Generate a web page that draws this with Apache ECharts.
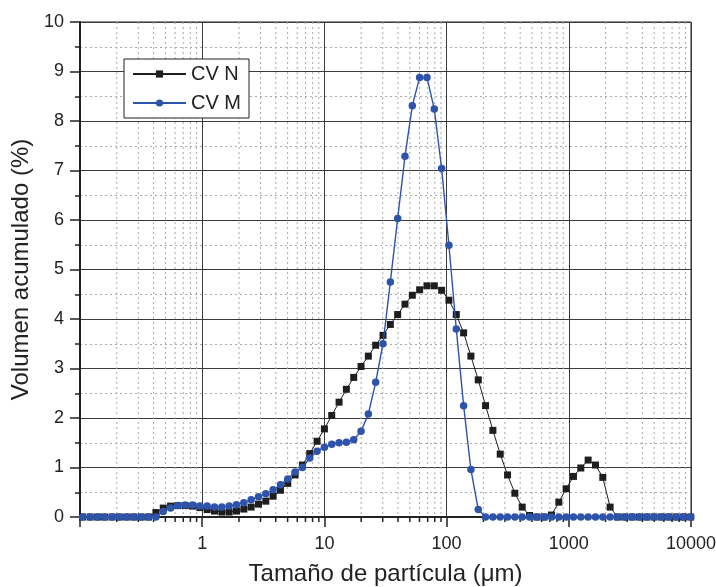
<!DOCTYPE html>
<html>
<head>
<meta charset="utf-8">
<script src="https://cdn.jsdelivr.net/npm/echarts@6/dist/echarts.min.js"></script>
<style>
html,body{margin:0;padding:0;background:#fff;}
#chart{width:716px;height:587px;}
</style>
</head>
<body>
<div id="chart"></div>
<script>
// Particle sizes (µm)
const sizes = [0.105,0.121,0.139,0.159,0.183,0.210,0.241,0.276,0.317,0.364,0.418,0.480,0.551,0.632,0.726,0.834,0.957,1.099,1.261,1.448,1.662,1.908,2.191,2.515,2.888,3.315,3.806,4.369,5.015,5.757,6.609,7.588,8.711,10.0,11.48,13.18,15.13,17.37,19.94,22.89,26.28,30.17,34.64,39.77,45.66,52.41,60.17,69.08,79.31,91.05,104.5,120.0,137.8,158.1,181.6,208.4,239.3,274.7,315.3,362.0,415.6,477.1,547.8,628.8,722.0,828.8,951.4,1092,1254,1440,1653,1897,2178,2500,2871,3296,3783,4344,4986,5725,6572,7545,8662,9943];

// CV N (%)
const cvN = [0,0,0,0,0,0,0,0,0,0,
  0.09,0.18,0.22,0.23,0.23,0.22,0.19,0.15,0.12,0.10,0.10,0.12,0.16,0.20,0.26,0.32,0.42,0.54,0.68,0.85,1.05,1.28,1.53,
  1.78,2.05,2.32,2.58,2.82,3.04,3.25,3.47,3.67,3.89,4.09,4.30,4.48,4.59,4.67,4.67,4.58,4.38,4.09,3.72,3.25,2.77,2.25,1.75,1.27,0.85,0.48,0.20,0.03,0,0,0.04,0.30,0.57,0.82,0.99,1.15,1.05,0.80,0.20,
  0,0,0,0,0,0,0,0,0,0,0];

// CV M (%)
const cvM = [0,0,0,0,0,0,0,0,0,0,0,
  0.11,0.18,0.23,0.24,0.24,0.22,0.22,0.20,0.20,0.22,0.25,0.29,0.35,0.41,0.47,0.55,0.65,0.77,0.91,1.00,1.19,1.33,
  1.41,1.47,1.50,1.51,1.56,1.73,2.08,2.72,3.50,4.75,6.03,7.29,8.31,8.88,8.88,8.24,7.04,5.49,3.80,2.25,0.96,0.15,
  0,0,0,0,0,0,0,0,0,0,0,0,0,0,0,0,0,0,0,0,0,0,0,0,0,0,0,0,0];

const seriesNames = ['CV N', 'CV M'];
const xTickLabels = {1:'1', 10:'10', 100:'100', 1000:'1000', 10000:'10000'};
const decades = [0.1, 1, 10, 100, 1000];
const minorMultipliers = [2,3,4,5,6,7,8,9];

const minorX = [];
decades.forEach(d => minorMultipliers.forEach(m => minorX.push([d*m, 0])));

const zip = (xs, ys) => xs.map((x, i) => [x, ys[i]]);

const chart = echarts.init(document.getElementById('chart'), null, {renderer:'canvas'});
const font = 'Liberation Sans, Arial, sans-serif';
chart.setOption({
  animation: false,
  backgroundColor: '#fff',
  grid: {left: 80, right: 25, top: 22, bottom: 70, show: true, borderColor: '#222', borderWidth: 1,
         containLabel: false, outerBoundsMode: 'none'},
  legend: {
    data: seriesNames,
    orient: 'vertical',
    left: 124, top: 59,
    padding: [5, 8, 5, 8],
    itemGap: 9,
    itemWidth: 53, itemHeight: 9,
    backgroundColor: '#fff',
    borderColor: '#222', borderWidth: 1,
    textStyle: {fontFamily: font, fontSize: 20, color: '#222', lineHeight: 20}
  },
  xAxis: {
    type: 'log', logBase: 10, min: 0.1, max: 10000,
    name: 'Tamaño de partícula (μm)', nameLocation: 'middle', nameGap: 45,
    nameTextStyle: {fontFamily: font, fontSize: 24, color: '#222'},
    axisLine: {show: true, onZero: false, lineStyle: {color: '#222', width: 2}},
    axisTick: {show: true, length: 10, lineStyle: {color: '#222', width: 1.5}},
    axisLabel: {fontFamily: font, fontSize: 18, color: '#222', margin: 18,
      formatter: v => { const r = Math.round(v); return xTickLabels[r] || ''; }},
    splitLine: {show: true, lineStyle: {color: '#3a3a3a', width: 1}},
    minorTick: {show: false}, minorSplitLine: {show: false}
  },
  yAxis: {
    type: 'value', min: 0, max: 10, interval: 1,
    name: 'Volumen acumulado (%)', nameLocation: 'middle', nameGap: 40,
    nameTextStyle: {fontFamily: font, fontSize: 24, color: '#222'},
    axisLine: {show: true, lineStyle: {color: '#222', width: 2}},
    axisTick: {show: true, length: 10, lineStyle: {color: '#222', width: 1.5}},
    minorTick: {show: true, splitNumber: 2, length: 5, lineStyle: {color: '#222', width: 1.5}},
    axisLabel: {fontFamily: font, fontSize: 18, color: '#222', margin: 16},
    splitLine: {show: true, lineStyle: {color: '#3a3a3a', width: 1}},
    minorSplitLine: {show: true, lineStyle: {color: '#aaa', width: 1, type: [2, 3]}}
  },
  series: [
    {
      type: 'custom', name: 'minorGrid', silent: true, z: 1, clip: false,
      data: minorX,
      encode: {x: 0, y: 1},
      renderItem: function (params, api) {
        const x = api.coord([api.value(0), 0])[0];
        const cs = params.coordSys;
        const top = cs.y, bottom = cs.y + cs.height;
        return {
          type: 'group',
          children: [
            {type: 'line', shape: {x1: x, y1: top, x2: x, y2: bottom},
             style: {stroke: '#aaa', lineWidth: 1, lineDash: [2, 3]}},
            {type: 'line', shape: {x1: x, y1: bottom, x2: x, y2: bottom + 5},
             style: {stroke: '#222', lineWidth: 1.5}}
          ]
        };
      }
    },
    {
      name: 'CV N', type: 'line', z: 3,
      data: zip(sizes, cvN),
      symbol: 'rect', symbolSize: 7,
      itemStyle: {color: '#1e1e1e'},
      lineStyle: {color: '#1e1e1e', width: 1}
    },
    {
      name: 'CV M', type: 'line', z: 4,
      data: zip(sizes, cvM),
      symbol: 'circle', symbolSize: 7.5,
      itemStyle: {color: '#2d53aa'},
      lineStyle: {color: '#2d53aa', width: 1.4}
    }
  ]
});
</script>
</body>
</html>
